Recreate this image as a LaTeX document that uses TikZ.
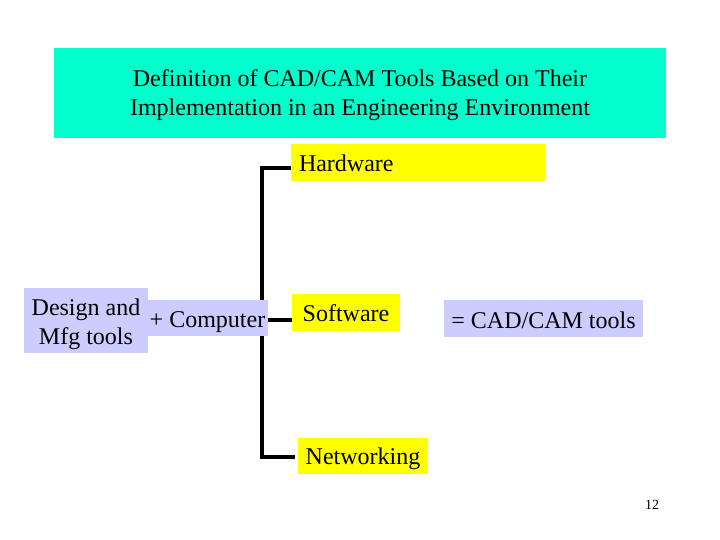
\documentclass[tikz,border=0pt]{standalone}
\usepackage{fontspec}
\setmainfont{Liberation Serif}
\usetikzlibrary{backgrounds}
\definecolor{titlecyan}{HTML}{00FFCC}
\definecolor{lav}{HTML}{CCCCFF}
\definecolor{yel}{HTML}{FFFF00}
\newcommand{\dropby}[2]{\raisebox{-#1}[\height][\depth]{#2}}
\tikzset{
  txt/.style={font=\fontsize{24}{28.8}\selectfont, inner sep=0pt, align=center},
  ybox/.style={txt, fill=yel},
  lbox/.style={txt, fill=lav},
  conn/.style={line width=3.5pt, black}
}
\begin{document}
\begin{tikzpicture}[x=1pt,y=-1pt]
\useasboundingbox (0,0) rectangle (720,540);
\node[txt, fill=titlecyan, minimum width=612pt, minimum height=90pt] (title) at (360,93)
  {\dropby{2pt}{\begin{tabular}{@{}c@{}}Definition of CAD/CAM Tools Based on Their\\Implementation in an Engineering Environment\end{tabular}}};
\node[ybox, minimum width=254pt, minimum height=37pt, text width=238pt, align=left] (hw) at (418,162.5) {\dropby{1pt}{Hardware}};
\node[ybox, minimum width=108pt, minimum height=37pt] (sw) at (346,312.5) {\dropby{1pt}{Software}};
\node[ybox, minimum width=130pt, minimum height=36pt] (nw) at (363,456) {\dropby{3pt}{Networking}};
\node[lbox, minimum width=199pt, minimum height=37pt] (cad) at (543.5,318.5) {\dropby{2pt}{= CAD/CAM tools}};
\node[lbox, minimum width=121pt, minimum height=36pt] (comp) at (207.5,318) {\dropby{4pt}{+ Computer}};
\node[lbox, minimum width=124pt, minimum height=65pt] (dm) at (86,320.5) {\dropby{4pt}{\begin{tabular}{@{}c@{}}Design and\\Mfg tools\end{tabular}}};
\node[font=\fontsize{14}{16}\selectfont, inner sep=0pt] (pg) at (652,505) {12};
\coordinate (top) at (262,168);
\coordinate (bot) at (262,457);
\coordinate (mid) at (0,320);
\begin{scope}[on background layer]
\draw[conn] (hw.west|-top) -- (top) -- (bot) -- ([xshift=-3pt]nw.west|-bot);
\draw[conn] (comp.east|-mid) -- (sw.west|-mid);
\end{scope}
\end{tikzpicture}
\end{document}
